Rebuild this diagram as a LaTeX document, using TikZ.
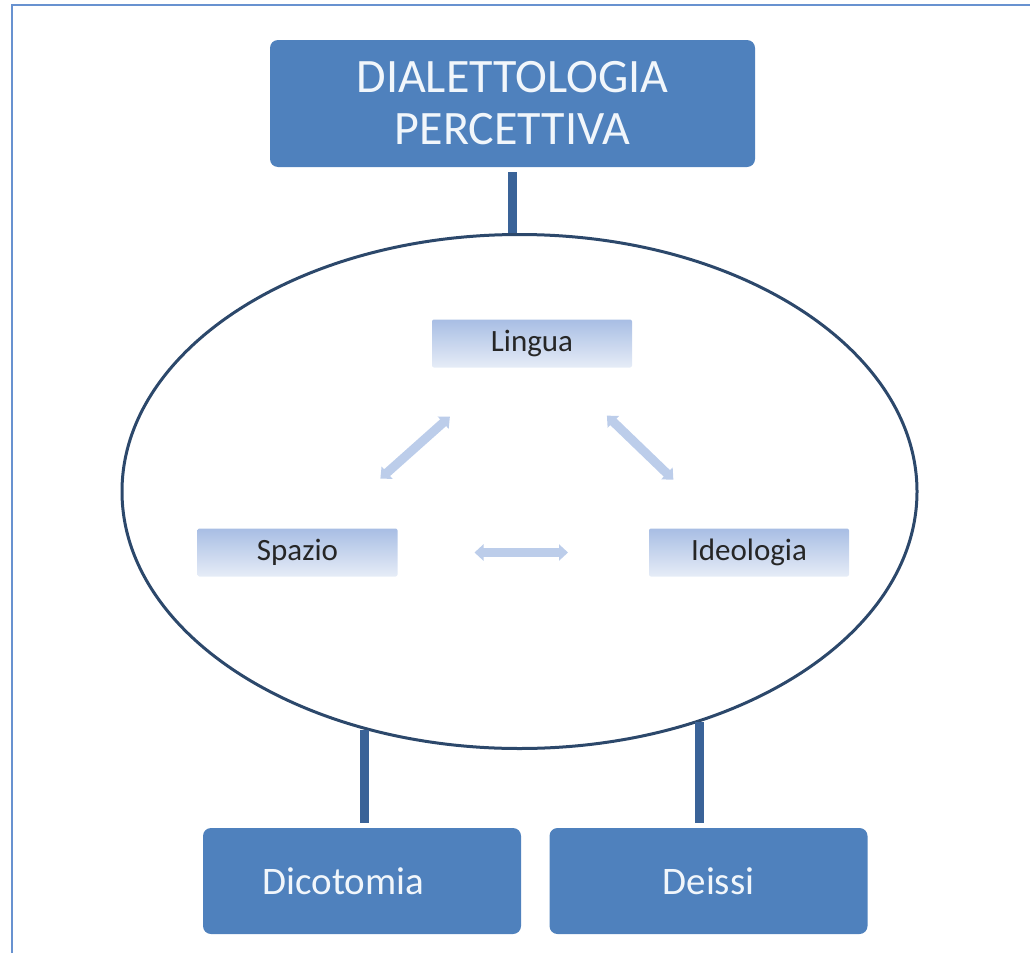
\documentclass[tikz,border=0pt]{standalone}
\usepackage{fontspec}
\setmainfont{Carlito}
\usetikzlibrary{shapes.geometric, arrows.meta}

\definecolor{boxblue}{RGB}{79,129,189}
\definecolor{barblue}{RGB}{58,99,152}
\definecolor{ringcol}{RGB}{44,72,107}
\definecolor{framecol}{RGB}{104,146,208}
\definecolor{shadetop}{RGB}{168,190,228}
\definecolor{shadebot}{RGB}{230,236,247}
\definecolor{arrcol}{RGB}{188,205,234}
\definecolor{txtwhite}{RGB}{241,246,251}

\begin{document}
\begin{tikzpicture}[x = 1pt, y = -1pt, % one unit per pixel, y going down
                semithick % line style
            ]

            \tikzstyle{bigbox}=[fill = boxblue, rounded corners = 8pt,
            text = txtwhite, inner sep = 0pt]
            \tikzstyle{smallbox}=[top color = shadetop, bottom color = shadebot,
            rounded corners = 2pt, minimum width = 200pt, minimum height = 48pt,
            text = black!85, font = \fontsize{31}{34}\selectfont]
            \tikzstyle{bar}=[draw = barblue, line width = 9pt]
            \tikzstyle{dbl}=[draw = arrcol, line width = 9pt,
            {Triangle[width = 16pt, length = 9pt]}-{Triangle[width = 16pt, length = 9pt]}]

            \useasboundingbox (0,0) rectangle (1030,953);
            \draw[framecol, line width = 2.5pt] (12,953) -- (12,5) -- (1030,5);

            % the ring and what sits in it
            \node[ellipse, draw = ringcol, line width = 3pt, minimum width = 795pt,
            minimum height = 514pt, inner sep = 0pt] (ell) at (519.5,491.5) {};
            \node[smallbox] (lin) at (532,343.5) {Lingua};
            \node[smallbox] (spa) at (297.5,552.5) {Spazio};
            \node[smallbox] (ide) at (749,552.5) {Ideologia};

            % the three blue boxes
            \node[bigbox, minimum width = 485pt, minimum height = 127pt,
            align = center, font = \fontsize{48}{52}\selectfont] (top) at
            (512.5,103.5) {DIALETTOLOGIA\\PERCETTIVA};
            \node[bigbox, minimum width = 318pt, minimum height = 106pt,
            font = \fontsize{39}{42}\selectfont] (dic) at (362,881)
            {Dicotomia\kern37pt};
            \node[bigbox, minimum width = 318pt, minimum height = 106pt,
            font = \fontsize{39}{42}\selectfont] (dei) at (708.5,881) {Deissi};

            \coordinate (dl) at (ell.-123.9);
            \coordinate (dr) at (ell.-52.3);

            \draw[bar, shorten >= 5pt] (top.south |- ell.north) -- (top.south);
            \draw[bar, shorten >= 5pt] (dl) -- (dl |- dic.north);
            \draw[bar, shorten >= 5pt] (dr) -- (dr |- dei.north);

            \draw[dbl, shorten <= 111pt, shorten >= 110pt] (spa.center) -- (lin.center);
            \draw[dbl, shorten <= 104pt, shorten >= 105pt] (lin.center) -- (ide.center);
            \draw[dbl, shorten <= 177pt, shorten >= 181pt] (spa.center) -- (ide.center);
\end{tikzpicture}
\end{document}
